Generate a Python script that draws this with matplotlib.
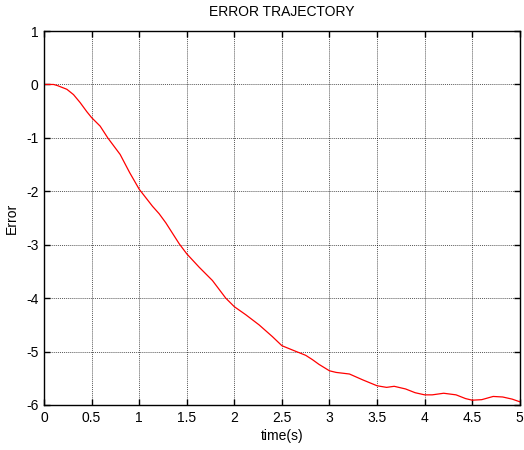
import numpy as np
import matplotlib
matplotlib.use('Agg')
from matplotlib import pyplot as plt

# error trajectory
t = np.array([0.0, 0.1, 0.14, 0.24, 0.31, 0.38, 0.45, 0.5, 0.59, 0.67, 0.8, 0.9, 1.0,
              1.14, 1.21, 1.28, 1.42, 1.5, 1.63, 1.77, 1.91, 2.0, 2.12, 2.26, 2.4,
              2.5, 2.61, 2.75, 2.82, 2.89, 3.0, 3.07, 3.21, 3.35, 3.5, 3.6, 3.68,
              3.8, 3.9, 4.0, 4.08, 4.2, 4.33, 4.43, 4.5, 4.6, 4.72, 4.82, 4.92, 5.0])
err = np.array([0.0, 0.0, -0.02, -0.09, -0.19, -0.34, -0.51, -0.62, -0.78, -1.0, -1.31,
                -1.65, -1.96, -2.28, -2.42, -2.59, -2.98, -3.17, -3.42, -3.67, -4.0,
                -4.16, -4.31, -4.5, -4.72, -4.89, -4.97, -5.07, -5.15, -5.24, -5.36,
                -5.39, -5.42, -5.53, -5.64, -5.67, -5.65, -5.70, -5.77, -5.81, -5.81,
                -5.78, -5.81, -5.88, -5.91, -5.90, -5.84, -5.85, -5.89, -5.94])

xticks = [0, 0.5, 1, 1.5, 2, 2.5, 3, 3.5, 4, 4.5, 5]
xticklabels = ['0', '0.5', '1', '1.5', '2', '2.5', '3', '3.5', '4', '4.5', '5']
yticks = [-6, -5, -4, -3, -2, -1, 0, 1]

plt.rcParams['font.family'] = ['Liberation Sans', 'DejaVu Sans']
plt.rcParams['font.size'] = 10
plt.rcParams['axes.unicode_minus'] = False

fig = plt.figure(figsize=(5.24, 4.5), dpi=100)
ax = fig.add_axes([0.084, 0.1, 0.908, 0.831])

ax.plot(t, err, color='red', lw=0.9)

ax.set_xlim(0, 5)
ax.set_ylim(-6, 1)
ax.set_xticks(xticks)
ax.set_xticklabels(xticklabels)
ax.set_yticks(yticks)

# matlab look: ticks inside, box, dotted grid
ax.tick_params(direction='in', length=4, width=1, top=True, right=True, pad=4)
ax.grid(True, color='k', ls=(0, (1, 1)), lw=0.7, alpha=0.65)
for s in ax.spines.values():
    s.set_linewidth(1)

ax.set_title('ERROR TRAJECTORY', fontsize=10, pad=11)
ax.set_xlabel('time(s)', labelpad=3)
ax.set_ylabel('Error', labelpad=5)

fig.savefig('out.png', dpi=100)
